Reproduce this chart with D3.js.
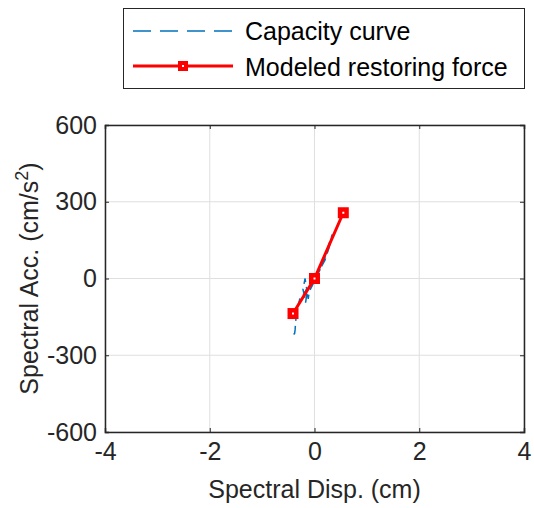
<!DOCTYPE html>
<html>
<head>
<meta charset="utf-8">
<script src="https://cdn.jsdelivr.net/npm/d3@7"></script>
<style>
  html, body { margin: 0; padding: 0; background: #fff; }
  svg { display: block; font-family: "Liberation Sans", Arial, sans-serif; }
</style>
</head>
<body>
<svg id="chart" width="534" height="508"></svg>
<script>
// Capacity curve (spectral displacement in cm, spectral acceleration in cm/s^2)
const capacityDisp = [0, 0.10, 0.20, 0.27, 0.31, 0.34, 0.30, 0.24, 0.28, 0.33, 0.26, 0.12, 0, -0.10, -0.12, -0.14, -0.17, -0.20, -0.22, -0.18, -0.15, -0.20, -0.27, -0.30, -0.32, -0.35, -0.36, -0.37, -0.38, -0.42];
const capacityAcc  = [0, 35, 72, 115, 145, 172, 150, 110, 125, 160, 115, 40, -10, -51, -80, -51, -94, -60, -43, 0, -40, -60, -70, -95, -110, -150, -168, -200, -215, -222];

// Modeled restoring force (backbone points)
const modelDisp = [-0.41, 0, 0.55];
const modelAcc  = [-137, 0, 257];

const xTicks = [-4, -2, 0, 2, 4];
const yTicks = [-600, -300, 0, 300, 600];

const seriesNames = ["Capacity curve", "Modeled restoring force"];

const svg = d3.select("#chart");
const margin = { left: 105, right: 10, top: 125, bottom: 76 };
const W = 534, H = 508;
const textColor = "#262626";
const fontSize = "25px";

const x = d3.scaleLinear().domain([-4, 4]).range([margin.left, W - margin.right]);
const y = d3.scaleLinear().domain([-600, 600]).range([H - margin.bottom, margin.top]);

// grid
const grid = svg.append("g");
grid.selectAll("line.vx").data(xTicks).join("line")
  .attr("x1", d => x(d)).attr("x2", d => x(d))
  .attr("y1", y(-600)).attr("y2", y(600))
  .attr("stroke", "#dfdfdf").attr("stroke-width", 1);
grid.selectAll("line.hy").data(yTicks).join("line")
  .attr("y1", d => y(d)).attr("y2", d => y(d))
  .attr("x1", x(-4)).attr("x2", x(4))
  .attr("stroke", "#dfdfdf").attr("stroke-width", 1);

// capacity curve (dashed)
const line = d3.line().x(d => x(d[0])).y(d => y(d[1]));
const capData = capacityDisp.map((d, i) => [d, capacityAcc[i]]);
svg.append("path").datum(capData)
  .attr("d", line)
  .attr("fill", "none")
  .attr("stroke", "#0072BD")
  .attr("stroke-width", 1.5)
  .attr("stroke-dasharray", "9,5");

// modeled restoring force
const modelData = modelDisp.map((d, i) => [d, modelAcc[i]]);
svg.append("path").datum(modelData)
  .attr("d", line)
  .attr("fill", "none")
  .attr("stroke", "#ff0000")
  .attr("stroke-width", 3);
svg.selectAll("rect.mk").data(modelData).join("rect")
  .attr("x", d => x(d[0]) - 3.25).attr("y", d => y(d[1]) - 3.25)
  .attr("width", 6.5).attr("height", 6.5)
  .attr("fill", "#fff").attr("stroke", "#ff0000").attr("stroke-width", 4.5);

// axes with inward ticks, box on
const fmt = d => String(d);
const axisG = svg.append("g").attr("fill", "none");
axisG.append("g").attr("transform", `translate(0,${y(-600)})`)
  .call(d3.axisBottom(x).tickValues(xTicks).tickSize(-4).tickPadding(10).tickFormat(fmt));
axisG.append("g").attr("transform", `translate(0,${y(600)})`)
  .call(d3.axisTop(x).tickValues(xTicks).tickSize(-4).tickFormat(""));
axisG.append("g").attr("transform", `translate(${x(-4)},0)`)
  .call(d3.axisLeft(y).tickValues(yTicks).tickSize(-4).tickPadding(8).tickFormat(fmt));
axisG.append("g").attr("transform", `translate(${x(4)},0)`)
  .call(d3.axisRight(y).tickValues(yTicks).tickSize(-4).tickFormat(""));
axisG.selectAll("path.domain").attr("stroke", textColor).attr("stroke-width", 1.5);
axisG.selectAll(".tick line").attr("stroke", textColor).attr("stroke-width", 1);
axisG.selectAll(".tick text").attr("fill", textColor).style("font-size", fontSize)
  .style("font-family", "'Liberation Sans', Arial, sans-serif");

// axis labels
svg.append("text")
  .attr("x", x(0)).attr("y", 498)
  .attr("text-anchor", "middle").attr("fill", textColor)
  .style("font-size", fontSize)
  .text("Spectral Disp. (cm)");

const yl = svg.append("text")
  .attr("transform", `translate(38,${y(0)}) rotate(-90)`)
  .attr("text-anchor", "middle").attr("fill", textColor)
  .style("font-size", fontSize);
yl.append("tspan").text("Spectral Acc. (cm/s");
yl.append("tspan").attr("dy", -10).style("font-size", "18px").text("2");
yl.append("tspan").attr("dy", 10).text(")");

// legend
const lg = svg.append("g");
lg.append("rect").attr("x", 123.5).attr("y", 8.5).attr("width", 401).attr("height", 80)
  .attr("fill", "#fff").attr("stroke", textColor).attr("stroke-width", 1);
lg.append("line").attr("x1", 133).attr("x2", 233).attr("y1", 31).attr("y2", 31)
  .attr("stroke", "#0072BD").attr("stroke-width", 1.5).attr("stroke-dasharray", "18,9");
lg.append("line").attr("x1", 133).attr("x2", 233).attr("y1", 66).attr("y2", 66)
  .attr("stroke", "#ff0000").attr("stroke-width", 3);
lg.append("rect").attr("x", 180).attr("y", 63).attr("width", 6).attr("height", 6)
  .attr("fill", "#fff").attr("stroke", "#ff0000").attr("stroke-width", 4);
lg.selectAll("text").data(seriesNames).join("text")
  .attr("x", 245).attr("y", (d, i) => 40 + i * 35.5)
  .attr("fill", "#000").style("font-size", fontSize)
  .text(d => d);
</script>
</body>
</html>
